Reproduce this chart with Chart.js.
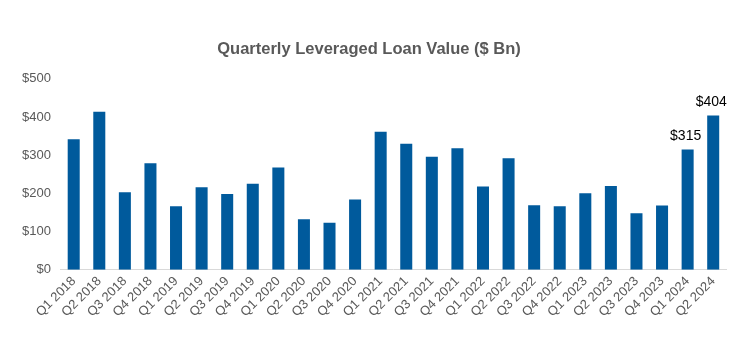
<!DOCTYPE html>
<html>
<head>
<meta charset="utf-8">
<script src="https://cdn.jsdelivr.net/npm/chart.js@4/dist/chart.umd.min.js"></script>
<style>
  html, body { margin: 0; padding: 0; background: #ffffff; }
  #wrap { width: 750px; height: 350px; }
</style>
</head>
<body>
<div id="wrap"><canvas id="c" width="750" height="350"></canvas></div>
<script>
const categories = ["Q1 2018","Q2 2018","Q3 2018","Q4 2018","Q1 2019","Q2 2019","Q3 2019","Q4 2019",
  "Q1 2020","Q2 2020","Q3 2020","Q4 2020","Q1 2021","Q2 2021","Q3 2021","Q4 2021",
  "Q1 2022","Q2 2022","Q3 2022","Q4 2022","Q1 2023","Q2 2023","Q3 2023","Q4 2023","Q1 2024","Q2 2024"];
const loanValues = [342, 414, 203, 279, 166, 216, 198, 225,
  268, 132, 123, 184, 361, 330, 296, 318,
  218, 292, 169, 166, 200, 219, 148, 168, 315, 404];
const labelledIndexes = [24, 25];
const yTicks = [0, 100, 200, 300, 400, 500];

const valueLabels = {
  id: 'valueLabels',
  afterDatasetsDraw(chart) {
    const ctx = chart.ctx;
    const meta = chart.getDatasetMeta(0);
    ctx.save();
    ctx.font = '14px "Liberation Sans", Arial, sans-serif';
    ctx.fillStyle = '#000000';
    ctx.textAlign = 'center';
    ctx.textBaseline = 'bottom';
    labelledIndexes.forEach(i => {
      const el = meta.data[i];
      ctx.fillText('$' + loanValues[i], el.x - 2, el.y - 6);
    });
    ctx.restore();
  }
};

new Chart(document.getElementById('c'), {
  type: 'bar',
  data: {
    labels: categories,
    datasets: [{
      data: loanValues,
      backgroundColor: '#005A9C',
      barPercentage: 0.47,
      categoryPercentage: 1.0
    }]
  },
  options: {
    responsive: false,
    animation: false,
    layout: { padding: { left: 12, right: 24, top: 8, bottom: 26 } },
    plugins: {
      legend: { display: false },
      tooltip: { enabled: false },
      title: {
        display: true,
        text: 'Quarterly Leveraged Loan Value ($ Bn)',
        color: '#595959',
        font: { family: '"Liberation Sans", Arial, sans-serif', size: 16.5, weight: 'bold' },
        padding: { top: 32, bottom: 19 }
      }
    },
    scales: {
      x: {
        grid: { display: false, drawTicks: false },
        border: { display: true, color: '#d9d9d9', width: 1 },
        ticks: {
          color: '#595959',
          font: { family: '"Liberation Sans", Arial, sans-serif', size: 13 },
          minRotation: 45,
          maxRotation: 45,
          autoSkip: false,
          padding: 4
        }
      },
      y: {
        min: 0,
        max: 500,
        afterBuildTicks(axis) { axis.ticks = yTicks.map(v => ({ value: v })); },
        grid: { display: false, drawTicks: false },
        border: { display: false },
        ticks: {
          color: '#595959',
          font: { family: '"Liberation Sans", Arial, sans-serif', size: 13 },
          padding: 10,
          callback: v => '$' + v
        }
      }
    }
  },
  plugins: [valueLabels]
});
</script>
</body>
</html>
